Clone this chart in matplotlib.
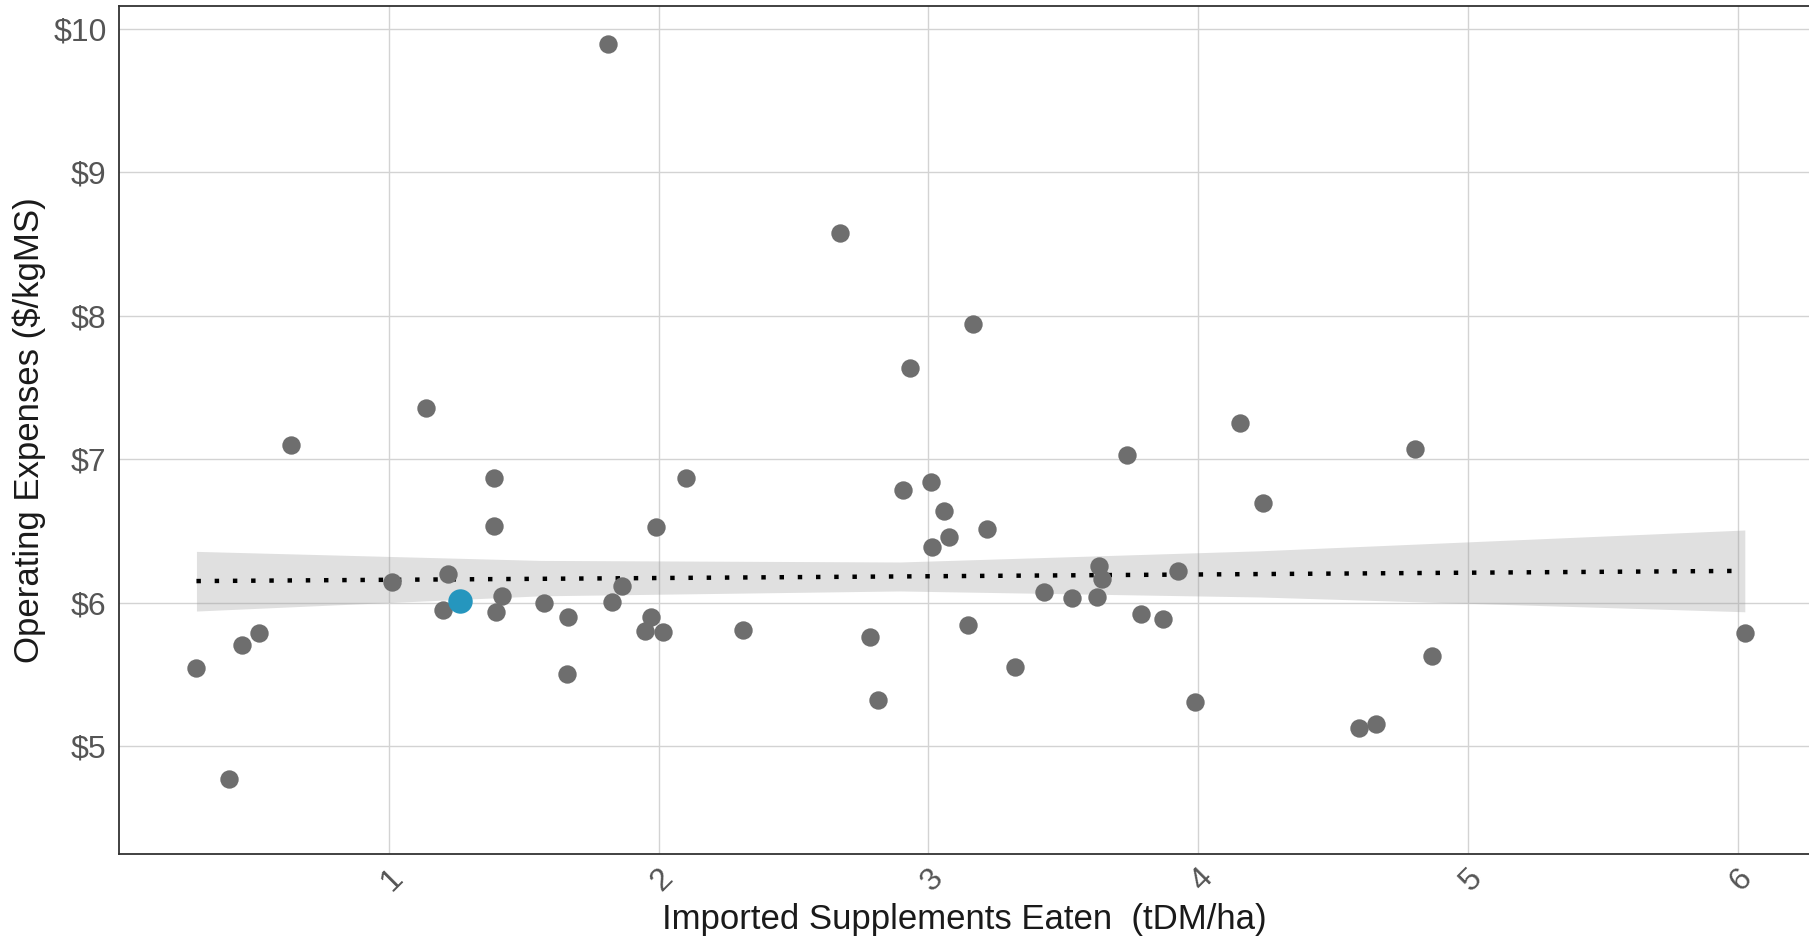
import numpy as np
import matplotlib
matplotlib.use("Agg")
import matplotlib.pyplot as plt
import matplotlib.transforms as mtrans
from matplotlib.ticker import FuncFormatter

supp_eaten = [0.287, 0.408, 0.455, 0.520, 0.636, 1.013, 1.137, 1.202, 1.220, 1.265,
              1.389, 1.389, 1.397, 1.419, 1.576, 1.659, 1.663, 1.814, 1.827, 1.864,
              1.948, 1.971, 1.990, 2.018, 2.102, 2.315, 2.671, 2.785, 2.812, 2.908,
              2.931, 3.010, 3.015, 3.060, 3.075, 3.146, 3.164, 3.217, 3.321, 3.429,
              3.533, 3.624, 3.633, 3.644, 3.735, 3.788, 3.872, 3.925, 3.990, 4.155,
              4.241, 4.598, 4.659, 4.804, 4.869, 6.027]
opex = [5.545, 4.771, 5.705, 5.791, 7.100, 6.146, 7.358, 5.949, 6.198, 6.012,
        6.867, 6.537, 5.937, 6.049, 5.995, 5.505, 5.902, 9.894, 6.007, 6.119,
        5.803, 5.902, 6.526, 5.798, 6.867, 5.812, 8.580, 5.759, 5.324, 6.786,
        7.639, 6.840, 6.391, 6.637, 6.460, 5.842, 7.944, 6.512, 5.549, 6.077,
        6.035, 6.042, 6.256, 6.165, 7.028, 5.923, 5.888, 6.221, 5.310, 7.253,
        6.697, 5.124, 5.154, 7.072, 5.628, 5.786]
highlight_idx = 9  # the blue farm

# trend line and its confidence band
trend_x = [0.287, 6.027]
trend_y = [6.151, 6.222]
band_x = [0.287, 1.562, 2.896, 4.230, 6.027]
band_hi = [6.358, 6.295, 6.284, 6.362, 6.507]
band_lo = [5.942, 6.048, 6.082, 6.040, 5.937]

x = np.array(supp_eaten)
y = np.array(opex)
n = len(x)

plt.rcParams['font.family'] = ['Liberation Sans', 'DejaVu Sans']

fig = plt.figure(figsize=(18.09, 9.42), dpi=100)
ax = fig.add_axes([0.0658, 0.0937, 0.9342, 0.8999])

ax.fill_between(band_x, band_lo, band_hi, color='#999999', alpha=0.3, lw=0, zorder=2)
ax.plot(trend_x, trend_y, color='black', lw=3.2, linestyle=(0, (1, 3.1)), zorder=3)

mask = np.ones(n, dtype=bool)
mask[highlight_idx] = False
ax.scatter(x[mask], y[mask], s=175, color='#6e6e6e', lw=0, zorder=4)
ax.scatter(x[highlight_idx], y[highlight_idx], s=310, color='#2596BE', lw=0, zorder=5)

ax.set_xlim(0.0, 6.265)
ax.set_ylim(4.25, 10.16)
ax.set_xticks([1, 2, 3, 4, 5, 6])
ax.set_yticks([5, 6, 7, 8, 9, 10])
ax.yaxis.set_major_formatter(FuncFormatter(lambda v, p: f'${v:.0f}'))

ax.grid(True, color='#d3d3d3', lw=1.0, zorder=0)
ax.set_axisbelow(True)
ax.tick_params(length=0, labelsize=23, labelcolor='#555555')
ax.tick_params(axis='y', pad=9)
ax.tick_params(axis='x', pad=7)
# rotated x tick labels, nudged to sit just right of each tick
off = mtrans.ScaledTranslation(-13 / 100, 0, fig.dpi_scale_trans)
for lbl in ax.get_xticklabels():
    lbl.set_rotation(45)
    lbl.set_ha('left')
    lbl.set_va('top')
    lbl.set_transform(lbl.get_transform() + off)

for side in ['left', 'bottom', 'top']:
    ax.spines[side].set_color('#333333')
    ax.spines[side].set_linewidth(1.3)
ax.spines['right'].set_visible(False)

ax.set_xlabel('Imported Supplements Eaten  (tDM/ha)', fontsize=25, color='#1a1a1a', labelpad=4)
ax.set_ylabel('Operating Expenses ($/kgMS)', fontsize=25, color='#1a1a1a', labelpad=5)

fig.savefig('out.png', dpi=100)
